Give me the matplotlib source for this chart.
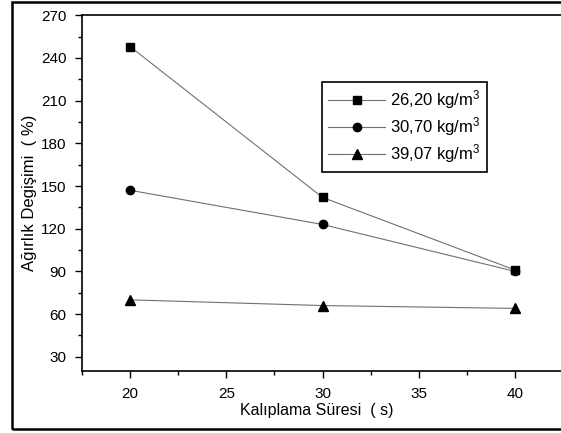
import matplotlib
matplotlib.use("Agg")
import matplotlib.pyplot as plt
from matplotlib.ticker import MultipleLocator
from matplotlib.patches import Rectangle

plt.rcParams['font.family'] = ['Liberation Sans', 'DejaVu Sans']
plt.rcParams['mathtext.fontset'] = 'custom'
plt.rcParams['mathtext.rm'] = 'Liberation Sans'
plt.rcParams['mathtext.it'] = 'Liberation Sans'

times = [20, 30, 40]
s_26 = [248, 142, 91]
s_30 = [147, 123, 90]
s_39 = [70, 66, 64]
labels = ['26,20 kg/m$^3$', '30,70 kg/m$^3$', '39,07 kg/m$^3$']

W, H = 561, 433
fig = plt.figure(figsize=(W/100, H/100), dpi=100)
ax_w, ax_h = (563-82), (371-15.3)
ax = fig.add_axes([82/W, 1-371/H, ax_w/W, ax_h/H])

line_kw = dict(color='#707070', lw=0.8, markeredgecolor='black', markerfacecolor='black')
ax.plot(times, s_26, marker='s', ms=6, label=labels[0], **line_kw)
ax.plot(times, s_30, marker='o', ms=6, label=labels[1], **line_kw)
ax.plot(times, s_39, marker='^', ms=7, label=labels[2], **line_kw)

ax.set_xlim(17.5, 42.5)
ax.set_ylim(20, 270)
ax.xaxis.set_major_locator(MultipleLocator(5))
ax.xaxis.set_minor_locator(MultipleLocator(2.5))
ax.yaxis.set_major_locator(MultipleLocator(30))
ax.yaxis.set_minor_locator(MultipleLocator(15))
ax.set_yticks([30, 60, 90, 120, 150, 180, 210, 240, 270])
ax.tick_params(which='both', direction='out', top=False, right=False, labelsize=11, width=1)
ax.tick_params(which='major', length=5, pad=6.5)
ax.tick_params(axis='y', which='major', pad=6)
ax.tick_params(which='minor', length=3)
for sp in ax.spines.values():
    sp.set_linewidth(1.2)
ax.spines['right'].set_visible(False)

ax.set_xlabel('Kalıplama Süresi  ( s)', fontsize=11.5)
ax.xaxis.set_label_coords((317-82)/ax_w, (371-410)/ax_h)
ax.xaxis.label.set_va('center')
ax.set_ylabel('Ağırlık Degişimi  ( %)', fontsize=12)
ax.yaxis.set_label_coords((30-82)/ax_w, 0.5)
ax.yaxis.label.set_va('center')

leg = ax.legend(loc='upper left', bbox_to_anchor=(321.7/W, 1-81.7/H), bbox_transform=fig.transFigure,
                fancybox=False, edgecolor='black', framealpha=1, fontsize=12,
                handlelength=3.4, borderpad=0.4, labelspacing=0.25, handletextpad=0.3, borderaxespad=0)
leg.get_frame().set_linewidth(1.2)

fig.patches.append(Rectangle((12/W, 1-429/H), 2.0, (429-1.5)/H, transform=fig.transFigure,
                             fill=False, edgecolor='black', lw=1.8, clip_on=False))

fig.savefig('out.png', dpi=100)
